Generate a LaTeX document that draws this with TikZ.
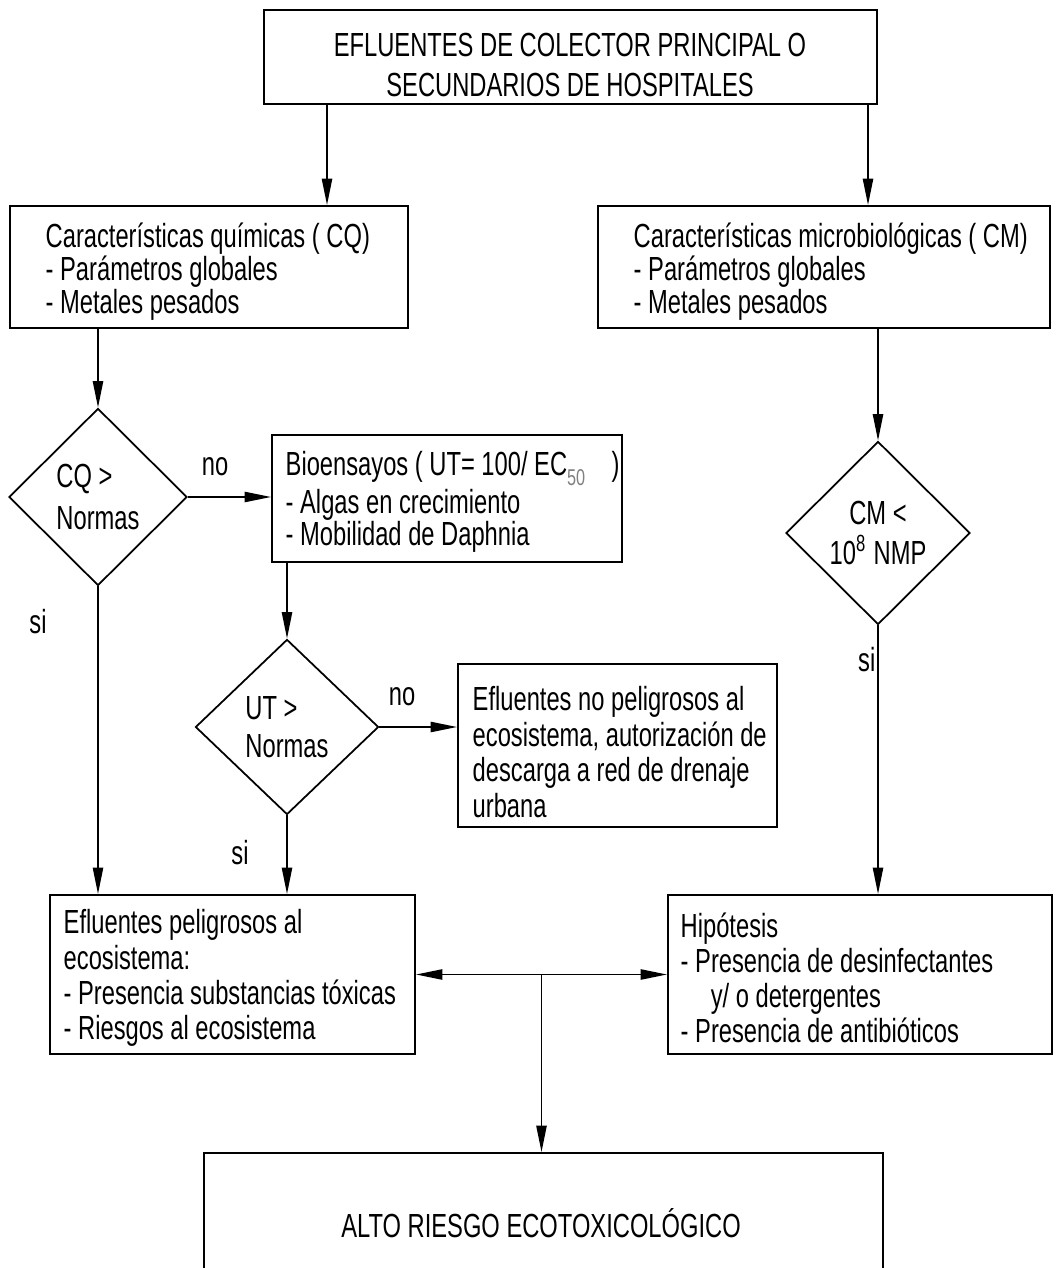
\documentclass[tikz,border=0pt]{standalone}
\usepackage{fontspec}
\setmainfont{Liberation Sans}[FakeStretch=0.71]
\usetikzlibrary{arrows.meta,shapes.geometric,calc}
\begin{document}
\begin{tikzpicture}[x=0.01cm,y=-0.01cm,
  every node/.style={inner sep=0pt},
  lw/.style={line width=0.5pt},
  fbox/.style={draw,lw,rectangle,anchor=center},
  txt/.style={align=left,anchor=west},
  dbox/.style={draw,lw,diamond,align=left,anchor=center},
  arr/.style={lw,-{Triangle[length=7.5pt,width=2.9pt]}},
  arrtwo/.style={lw,{Triangle[length=7.5pt,width=2.9pt]}-{Triangle[length=7.5pt,width=2.9pt]}},
  lbl/.style={font=\fontsize{9.5pt}{10pt}\selectfont}
]
\useasboundingbox (0,0) rectangle (1057,1268);

% boxes
\node[fbox,minimum width=6.13cm,minimum height=0.94cm] (top) at (570.5,57) {};
\node[fbox,minimum width=3.98cm,minimum height=1.22cm] (cq) at (209,267) {};
\node[fbox,minimum width=4.52cm,minimum height=1.22cm] (cm) at (824,267) {};
\node[fbox,minimum width=3.50cm,minimum height=1.27cm] (bio) at (447,498.5) {};
\node[fbox,minimum width=3.19cm,minimum height=1.63cm] (efnp) at (617.5,745.5) {};
\node[fbox,minimum width=3.65cm,minimum height=1.59cm] (efp) at (232.5,974.5) {};
\node[fbox,minimum width=3.84cm,minimum height=1.59cm] (hip) at (860,974.5) {};
\node[fbox,minimum width=6.79cm,minimum height=2.00cm] (alto) at (543.5,1253) {};

% box texts
\node[align=center,font=\fontsize{9.5pt}{11.4pt}\selectfont] (toptxt) at (570,65)
  {EFLUENTES DE COLECTOR PRINCIPAL O\\SECUNDARIOS DE HOSPITALES};
\node[txt,font=\fontsize{9.5pt}{9.4pt}\selectfont] (cqtxt) at (45,272)
  {Características químicas ( CQ)\\- Parámetros globales\\- Metales pesados};
\node[txt,font=\fontsize{9.5pt}{9.4pt}\selectfont] (cmtxt) at (633,272)
  {Características microbiológicas ( CM)\\- Parámetros globales\\- Metales pesados};
\node[txt,font=\fontsize{9.5pt}{9.1pt}\selectfont] (biotxt) at (285,502)
  {Bioensayos ( UT= 100/ EC\raisebox{-0.6ex}{\color{gray}\fontsize{6.5pt}{7pt}\selectfont 50}\ \ \ \ )\\- Algas en crecimiento\\- Mobilidad de Daphnia};
\node[txt,font=\fontsize{9.5pt}{10.2pt}\selectfont] (efnptxt) at (472,752)
  {Efluentes no peligrosos al\\ecosistema, autorización de\\descarga a red de drenaje\\urbana};
\node[txt,font=\fontsize{9.5pt}{10pt}\selectfont] (efptxt) at (63,978)
  {Efluentes peligrosos al\\ecosistema:\\- Presencia substancias tóxicas\\- Riesgos al ecosistema};
\node[txt,font=\fontsize{9.5pt}{10pt}\selectfont] (hiptxt) at (680,978)
  {Hipótesis\\- Presencia de desinfectantes\\\hspace*{0.9em}y/ o detergentes\\- Presencia de antibióticos};
\node[font=\fontsize{9.5pt}{10pt}\selectfont] (altotxt) at (541,1223)
  {ALTO RIESGO ECOTOXICOLÓGICO};

% diamonds
\node[dbox,minimum width=1.78cm,minimum height=1.77cm,
  font=\fontsize{9.5pt}{12pt}\selectfont] (cqd) at (98,497) {CQ >\\Normas};
\node[dbox,minimum width=1.83cm,minimum height=1.75cm,
  font=\fontsize{9.5pt}{10.8pt}\selectfont] (utd) at (287,727) {UT >\\Normas};
\node[dbox,minimum width=1.84cm,minimum height=1.83cm,align=center,
  font=\fontsize{9.5pt}{11.4pt}\selectfont] (cmd) at (878,533) {CM <\\10\textsuperscript{8} NMP};

% labels
\node[lbl] (no1) at (215,467) {no};
\node[lbl] (no2) at (402,697) {no};
\node[lbl] (si1) at (38,622) {si};
\node[lbl] (si2) at (240,853) {si};
\node[lbl,anchor=east] (si3) at (876,660) {si};

% connectors
\coordinate (c1) at (327,0);
\coordinate (c2) at (868,0);
\draw[arr] (top.south -| c1) -- (cq.north -| c1);
\draw[arr] (top.south -| c2) -- (cm.north -| c2);
\draw[arr] (cq.south -| cqd.north) -- (cqd.north);
\draw[arr] (cqd.east) -- (bio.west |- cqd.east);
\draw[arr] (bio.south -| utd.north) -- (utd.north);
\draw[arr] (utd.east) -- (efnp.west |- utd.east);
\draw[arr] (cqd.south) -- (efp.north -| cqd.south);
\draw[arr] (utd.south) -- (efp.north -| utd.south);
\draw[arr] (cm.south -| cmd.north) -- (cmd.north);
\draw[arr] (cmd.south) -- (hip.north -| cmd.south);
\coordinate (j) at ($(efp.east)!0.5!(hip.west)$);
\draw[arrtwo] (efp.east) -- (hip.west);
\draw[arr] (j) -- (alto.north -| j);
\end{tikzpicture}
\end{document}
